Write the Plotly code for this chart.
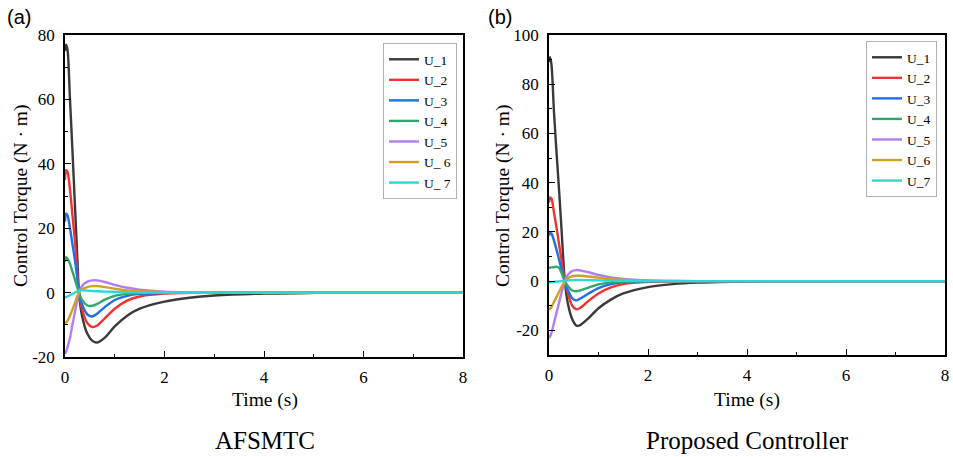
import plotly.graph_objects as go

# ---------------- data ----------------
names_a = ["U_1", "U_2", "U_3", "U_4", "U_5", "U_ 6", "U_ 7"]
names_b = ["U_1", "U_2", "U_3", "U_4", "U_5", "U_6", "U_7"]
colors = ["#3a3a3a", "#f03232", "#1f6fe6", "#2fa86c", "#b07ef0", "#d2a020", "#2fd6d6"]

t_a = [0, 0.02, 0.05, 0.1, 0.15, 0.2, 0.25, 0.28, 0.34, 0.45, 0.55, 0.65, 0.8, 1.0, 1.25, 1.5, 2, 2.5, 3, 4, 5, 6, 8]
u1_a = [75, 77, 75.5, 60, 44, 27, 10, 0, -7, -12.8, -15, -15.5, -14, -10.5, -7.2, -5, -2.8, -1.6, -0.9, -0.3, -0.1, -0.03, 0]
u2_a = [35, 38, 37.5, 32, 24, 16, 6, 0, -5, -9.5, -10.7, -10.2, -8, -5, -2.5, -1.2, -0.3, -0.1, 0, 0, 0, 0, 0]
u3_a = [22, 24.5, 24, 20, 15, 10, 4, 0, -3.5, -6.8, -7.4, -6.5, -4.5, -2.3, -1, -0.4, -0.1, 0, 0, 0, 0, 0, 0]
u4_a = [9.5, 11, 10.5, 9, 6.5, 4, 1.5, 0, -2.2, -4, -4.1, -3.5, -2.2, -1, -0.4, -0.15, 0, 0, 0, 0, 0, 0, 0]
u5_a = [-19, -18.5, -17, -14, -10, -6, -2, 0, 2, 3.4, 3.8, 3.8, 3.3, 2.4, 1.5, 0.9, 0.3, 0.1, 0.03, 0, 0, 0, 0]
u6_a = [-9.5, -9.3, -8.8, -7.2, -5.2, -3.2, -1, 0, 1, 1.7, 2.0, 2.0, 1.7, 1.2, 0.7, 0.4, 0.1, 0.03, 0, 0, 0, 0, 0]
u7_a = [-1.5, -1.4, -1.2, -0.8, -0.4, 0, 0.4, 0.6, 0.7, 0.6, 0.5, 0.4, 0.3, 0.2, 0.1, 0.05, 0, 0, 0, 0, 0, 0, 0]

t_b = [0, 0.02, 0.05, 0.1, 0.15, 0.2, 0.25, 0.32, 0.38, 0.47, 0.55, 0.62, 0.8, 1.0, 1.25, 1.5, 2, 2.5, 3, 4, 5, 6, 8]
u1_b = [89, 91, 88, 69, 53, 38, 22, 0, -9, -15.5, -18, -18, -15, -11, -7.5, -5, -2.4, -1.2, -0.6, -0.15, -0.05, 0, 0]
u2_b = [32, 34, 33.5, 28, 22, 15.5, 9, 0, -5, -10, -11.4, -11, -8, -5, -2.5, -1.2, -0.3, -0.1, 0, 0, 0, 0, 0]
u3_b = [18.5, 19.6, 19.3, 16.5, 13, 9, 5, 0, -3.5, -7, -7.8, -7.2, -5, -2.8, -1.2, -0.5, -0.1, 0, 0, 0, 0, 0, 0]
u4_b = [5.2, 5.5, 5.6, 5.7, 5.9, 5.5, 3.5, 0, -2, -3.8, -4.1, -3.8, -2.6, -1.3, -0.5, -0.2, 0, 0, 0, 0, 0, 0, 0]
u5_b = [-23, -22.5, -21, -17, -13, -9, -5, 0, 2.5, 4.1, 4.5, 4.4, 3.6, 2.5, 1.5, 0.9, 0.3, 0.1, 0.03, 0, 0, 0, 0]
u6_b = [-11.5, -11.2, -10.5, -8.5, -6.5, -4.5, -2.5, 0, 1.2, 2.0, 2.2, 2.2, 1.9, 1.4, 0.8, 0.5, 0.15, 0.05, 0, 0, 0, 0, 0]
u7_b = [-0.5, -0.5, -0.4, -0.3, -0.2, -0.1, 0, 0.1, 0.3, 0.4, 0.45, 0.45, 0.4, 0.3, 0.2, 0.1, 0.05, 0, 0, 0, 0, 0, 0]

x_ticks = [0, 2, 4, 6, 8]
y_ticks_a = [-20, 0, 20, 40, 60, 80]
y_ticks_b = [-20, 0, 20, 40, 60, 80, 100]

series_a = [u1_a, u2_a, u3_a, u4_a, u5_a, u6_a, u7_a]
series_b = [u1_b, u2_b, u3_b, u4_b, u5_b, u6_b, u7_b]

# ---------------- figure ----------------
W, H = 953, 457
SERIF = "Liberation Serif"
fig = go.Figure()

for name, col, ys in zip(names_a, colors, series_a):
    fig.add_trace(go.Scatter(x=t_a, y=ys, name=name, mode="lines",
                             line=dict(color=col, width=2.4, shape="spline", smoothing=0.8),
                             xaxis="x", yaxis="y", legend="legend"))
for name, col, ys in zip(names_b, colors, series_b):
    fig.add_trace(go.Scatter(x=t_b, y=ys, name=name, mode="lines",
                             line=dict(color=col, width=2.4, shape="spline", smoothing=0.8),
                             xaxis="x2", yaxis="y2", legend="legend2"))

def px_x(p):
    return p / W

def px_y(p):
    return 1 - p / H

tickfont = dict(family=SERIF, size=17, color="black")

def xaxis(domain, anchor):
    return dict(domain=domain, anchor=anchor, range=[0, 8], automargin=False,
                tickvals=x_ticks, ticktext=[str(v) for v in x_ticks],
                ticks="inside", ticklen=6, tickwidth=1.2, tickcolor="black",
                minor=dict(dtick=1, tick0=0, ticks="inside", ticklen=3, tickcolor="black"),
                showline=True, linecolor="black", linewidth=1.5, mirror=True,
                showgrid=False, zeroline=False, tickfont=tickfont, ticklabelstandoff=4)

def yaxis(domain, anchor, rng, tv):
    return dict(domain=domain, anchor=anchor, range=rng, automargin=False,
                tickvals=tv, ticktext=[str(v) for v in tv],
                ticks="inside", ticklen=6, tickwidth=1.2, tickcolor="black",
                minor=dict(dtick=10, tick0=0, ticks="inside", ticklen=3, tickcolor="black"),
                showline=True, linecolor="black", linewidth=1.5, mirror=True,
                showgrid=False, zeroline=False, tickfont=tickfont, ticklabelstandoff=5)

legend_common = dict(font=dict(family=SERIF, size=13.5, color="black"),
                     bgcolor="white", bordercolor="#b0b0b0", borderwidth=1,
                     xanchor="left", yanchor="top", itemwidth=30,
                     tracegroupgap=0)

fig.update_layout(
    width=W, height=H,
    margin=dict(l=0, r=0, t=0, b=0, autoexpand=False),
    paper_bgcolor="white", plot_bgcolor="white",
    xaxis=xaxis([px_x(65), px_x(463)], "y"),
    yaxis=yaxis([px_y(357), px_y(35)], "x", [-20, 80], y_ticks_a),
    xaxis2=xaxis([px_x(549), px_x(945)], "y2"),
    yaxis2=yaxis([px_y(355), px_y(35)], "x2", [-30, 100], y_ticks_b),
    legend=dict(x=px_x(383), y=px_y(43), **legend_common),
    legend2=dict(x=px_x(866), y=px_y(41), **legend_common),
    showlegend=True,
)

ann = []
def text(x, y, s, size, family=SERIF, angle=0):
    ann.append(dict(x=px_x(x), y=px_y(y), xref="paper", yref="paper", text=s,
                    showarrow=False, textangle=angle, xanchor="center", yanchor="middle",
                    font=dict(family=family, size=size, color="black")))

text(19, 17, "(a)", 20, family="Liberation Sans")
text(500, 17, "(b)", 20, family="Liberation Sans")
text(21, 196, "Control Torque (N · m)", 19.5, angle=-90)
text(503, 196, "Control Torque (N · m)", 19.5, angle=-90)
text(265, 400, "Time (s)", 19.5)
text(747, 400, "Time (s)", 19.5)
text(265, 440, "AFSMTC", 25)
text(747, 440, "Proposed Controller", 25)
fig.update_layout(annotations=ann)

fig.write_html("out.html")
